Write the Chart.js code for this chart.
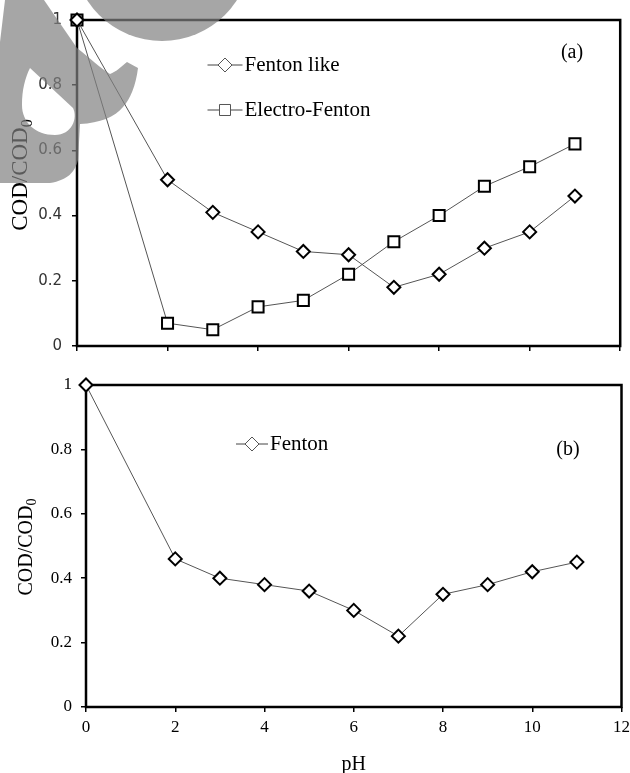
<!DOCTYPE html>
<html>
<head>
<meta charset="utf-8">
<script src="https://cdn.jsdelivr.net/npm/chart.js@4.4.1/dist/chart.umd.min.js"></script>
<style>
  html, body { margin: 0; padding: 0; background: #fff; }
  #wrap { position: relative; width: 630px; height: 773px; overflow: hidden; }
  #wrap canvas { position: absolute; left: 0; }
  #chartA { top: 0; }
  #chartB { top: 365px; }
  .ytitle {
    position: absolute; width: 200px; text-align: center; white-space: nowrap;
    font-family: "Liberation Serif", "Times New Roman", serif; color: #000;
    transform: rotate(-90deg);
  }
  .ytitle sub { font-size: 0.7em; vertical-align: -0.3em; line-height: 0; }
  #titleA { left: -80px; top: 161px; font-size: 23px; line-height: 28px; }
  #titleB { left: -75px; top: 535px; font-size: 20px; line-height: 24px; }
  #mark { position: absolute; left: 0; top: 0; pointer-events: none; }
</style>
</head>
<body>
<div id="wrap">
  <canvas id="chartA" width="630" height="365"></canvas>
  <canvas id="chartB" width="630" height="408"></canvas>
  <div class="ytitle" id="titleA">COD/COD<sub>0</sub></div>
  <div class="ytitle" id="titleB">COD/COD<sub>0</sub></div>
  <svg id="mark" width="630" height="365" viewBox="0 0 630 365">
    <circle cx="162" cy="-48" r="89" fill="rgba(128,128,128,0.7)"/>
    <path fill="rgba(128,128,128,0.7)" fill-rule="evenodd"
      d="M5,0 L44,0 L77,48 C90,58 100,68 110,74 C116,72 122,66 127,62 L138,68
         C136,85 130,100 123,107 C115,117 100,123 80,124 L78,160
         C75,172 68,180 50,183 L0,183 L0,42 Z
         M30,68 C25,78 22,90 22,105 C22,122 35,135 55,135
         C72,135 78,118 73,108 Z"/>
  </svg>
</div>
<script>
// pH values (same for every series)
const ph = [0, 2, 3, 4, 5, 6, 7, 8, 9, 10, 11];

// (a) Fenton like vs Electro-Fenton
const codFentonLike = [1, 0.51, 0.41, 0.35, 0.29, 0.28, 0.18, 0.22, 0.30, 0.35, 0.46];
const codElectroFenton = [1, 0.07, 0.05, 0.12, 0.14, 0.22, 0.32, 0.40, 0.49, 0.55, 0.62];

// (b) Fenton
const codFenton = [1, 0.46, 0.40, 0.38, 0.36, 0.30, 0.22, 0.35, 0.38, 0.42, 0.45];

// axis ticks
const xTicks = [0, 2, 4, 6, 8, 10, 12];
const yTicks = [0, 0.2, 0.4, 0.6, 0.8, 1];

const serif = '"Liberation Serif", "Times New Roman", serif';
const sans = '"DejaVu Sans", sans-serif';

function toPoints(ys) {
  return ph.map((x, i) => ({ x: x, y: ys[i] }));
}

function series(label, ys, style, radius) {
  return {
    label: label,
    data: toPoints(ys),
    borderColor: '#555',
    borderWidth: 1,
    pointStyle: style,
    pointRadius: radius,
    pointBorderWidth: 2,
    pointBorderColor: '#000',
    pointBackgroundColor: '#fff',
    fill: false,
    tension: 0,
    clip: false
  };
}

// draws a marker the same way as the point styles used in the charts
function marker(ctx, style, x, y, r) {
  ctx.beginPath();
  if (style === 'rect') {
    const s = r * Math.SQRT1_2;
    ctx.rect(x - s, y - s, 2 * s, 2 * s);
  } else {
    ctx.moveTo(x, y - r);
    ctx.lineTo(x + r, y);
    ctx.lineTo(x, y + r);
    ctx.lineTo(x - r, y);
    ctx.closePath();
  }
  ctx.fill();
  ctx.stroke();
}

// box round the plot area
const frame = {
  id: 'frame',
  beforeDatasetsDraw(chart) {
    const a = chart.chartArea, ctx = chart.ctx;
    ctx.save();
    ctx.strokeStyle = '#000';
    ctx.lineWidth = 2.5;
    ctx.strokeRect(a.left, a.top, a.right - a.left, a.bottom - a.top);
    ctx.restore();
  }
};

// legend with line through marker, plus the panel letter
const lineLegend = {
  id: 'lineLegend',
  afterDraw(chart, args, o) {
    const ctx = chart.ctx;
    ctx.save();
    ctx.font = '21px ' + serif;
    ctx.textBaseline = 'middle';
    chart.data.datasets.forEach((ds, i) => {
      const p = o.pos[i];
      ctx.strokeStyle = '#444';
      ctx.lineWidth = 1;
      ctx.beginPath();
      ctx.moveTo(p.x - p.half, p.y);
      ctx.lineTo(p.x + p.half, p.y);
      ctx.stroke();
      ctx.fillStyle = '#fff';
      ctx.strokeStyle = '#555';
      marker(ctx, ds.pointStyle, p.x, p.y, ds.pointStyle === 'rect' ? 7.8 : 7);
      ctx.fillStyle = '#000';
      ctx.textAlign = 'left';
      ctx.fillText(ds.label, p.x + p.half + 2, p.y);
    });
    ctx.font = '20px ' + serif;
    ctx.textAlign = 'center';
    ctx.fillText(o.tag, o.tagX, o.tagY);
    ctx.restore();
  }
};

function scales(opt) {
  return {
    x: {
      type: 'linear',
      min: xTicks[0],
      max: xTicks[xTicks.length - 1],
      afterBuildTicks(s) { s.ticks = xTicks.map(v => ({ value: v })); },
      ticks: {
        color: '#000',
        font: { family: serif, size: 17 },
        padding: 5,
        maxRotation: 0,
        callback: opt.xLabels ? (v => String(v)) : (() => '')
      },
      grid: { drawOnChartArea: false, drawTicks: true, tickLength: 5, color: '#000', lineWidth: 1.5 },
      border: { display: false },
      title: opt.xTitle ? {
        display: true, text: opt.xTitle, color: '#000',
        font: { family: serif, size: 20, lineHeight: 0.8 }, padding: 0
      } : { display: false },
      afterFit(s) { s.height = opt.xHeight; s.paddingLeft = 0; s.paddingRight = 0; }
    },
    y: {
      min: yTicks[0],
      max: yTicks[yTicks.length - 1],
      afterBuildTicks(s) { s.ticks = yTicks.map(v => ({ value: v })); },
      ticks: {
        color: opt.yColor,
        font: opt.yFont,
        padding: opt.yPad,
        callback: v => String(+v.toFixed(1))
      },
      grid: { drawOnChartArea: false, drawTicks: true, tickLength: 5, color: '#000', lineWidth: 1.5 },
      border: { display: false },
      afterFit(s) { s.width = opt.yWidth; s.paddingTop = 0; s.paddingBottom = 0; }
    }
  };
}

new Chart(document.getElementById('chartA'), {
  type: 'line',
  data: {
    datasets: [
      series('Fenton like', codFentonLike, 'rectRot', 6.5),
      series('Electro-Fenton', codElectroFenton, 'rect', 7.8)
    ]
  },
  options: {
    responsive: false,
    animation: false,
    events: [],
    layout: { padding: { top: 20, right: 7, left: 0, bottom: 0 } },
    plugins: {
      legend: { display: false },
      tooltip: { enabled: false },
      lineLegend: {
        pos: [{ x: 225, y: 65, half: 17.5 }, { x: 225, y: 110, half: 17.5 }],
        tag: '(a)', tagX: 572, tagY: 53
      }
    },
    scales: scales({
      xLabels: false, xHeight: 19, yWidth: 77, yPad: 10,
      yColor: '#333', yFont: { family: sans, size: 15 }
    })
  },
  plugins: [frame, lineLegend]
});

new Chart(document.getElementById('chartB'), {
  type: 'line',
  data: {
    datasets: [
      series('Fenton', codFenton, 'rectRot', 6.5)
    ]
  },
  options: {
    responsive: false,
    animation: false,
    events: [],
    layout: { padding: { top: 20, right: 8, left: 0, bottom: 0 } },
    plugins: {
      legend: { display: false },
      tooltip: { enabled: false },
      lineLegend: {
        pos: [{ x: 252, y: 79, half: 16 }],
        tag: '(b)', tagX: 568, tagY: 85
      }
    },
    scales: scales({
      xLabels: true, xTitle: 'pH', xHeight: 66, yWidth: 86, yPad: 9,
      yColor: '#000', yFont: { family: serif, size: 17 }
    })
  },
  plugins: [frame, lineLegend]
});
</script>
</body>
</html>
